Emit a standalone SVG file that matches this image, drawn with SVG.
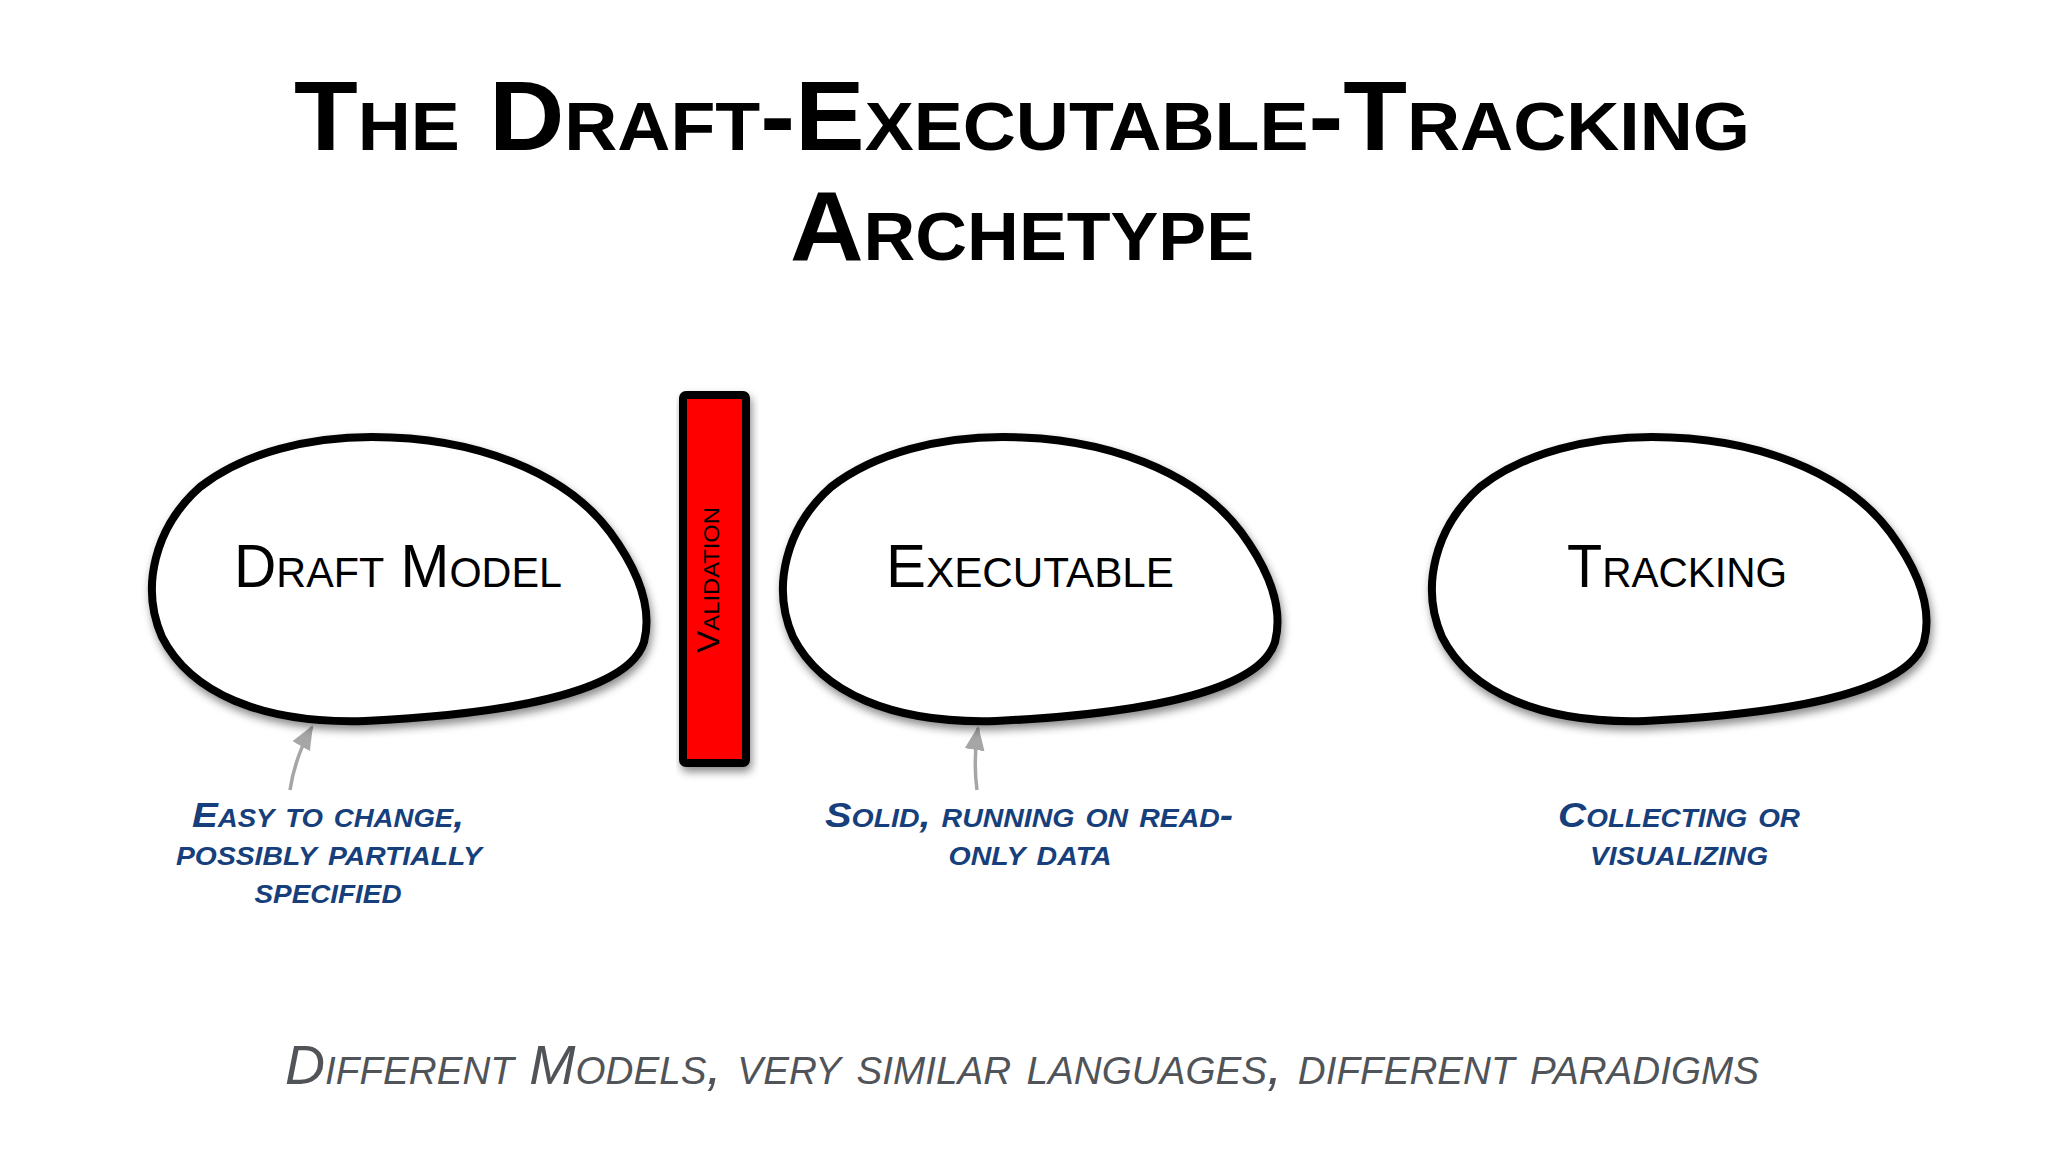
<svg xmlns="http://www.w3.org/2000/svg" width="2048" height="1152" viewBox="0 0 2048 1152">
<style>
.title{font-family:"Liberation Sans",Arial,sans-serif;font-weight:bold;font-variant:small-caps;font-size:98px;fill:#000;text-anchor:middle}
.lbl{font-family:"Liberation Sans",Arial,sans-serif;font-variant:small-caps;font-size:61px;fill:#000;text-anchor:middle}
.note{font-family:"Liberation Sans",Arial,sans-serif;font-style:italic;font-weight:bold;font-variant:small-caps;font-size:35px;fill:#173f7c;text-anchor:middle}
.foot{font-family:"Liberation Sans",Arial,sans-serif;font-style:italic;font-variant:small-caps;font-size:56px;fill:#505458;text-anchor:middle}
.blob{fill:#fff;stroke:#000;stroke-width:8;filter:url(#sh)}
.arr{fill:none;stroke:#a6a6a6;stroke-width:3.5;marker-end:url(#ah)}
</style>
<defs>
<filter id="sh" x="-10%" y="-10%" width="130%" height="130%">
<feDropShadow dx="2" dy="5" stdDeviation="4" flood-color="#000" flood-opacity="0.45"/>
</filter>
<path id="blobShape" d="M222,0 C325,0 415,35 460,95 C488,133 503,170 494,205 C480,250 380,276 215,284 C110,287 40,255 12,200 C-10,150 5,90 50,50 C95,15 160,0 222,0 Z"/>
<marker id="ah" viewBox="0 0 24 20" refX="22" refY="10" markerWidth="24" markerHeight="20" markerUnits="userSpaceOnUse" orient="auto">
<path d="M0,0 L24,10 L0,20 Z" fill="#a6a6a6"/>
</marker>
</defs>
<rect width="2048" height="1152" fill="#fff"/>

<g id="title">
<text class="title" x="1022" y="150" textLength="1456" lengthAdjust="spacingAndGlyphs">The Draft-Executable-Tracking</text>
<text class="title" x="1022" y="260" textLength="464" lengthAdjust="spacingAndGlyphs">Archetype</text>
</g>

<g id="connectors">
<path class="arr" d="M290,790 Q295,757 312,727"/>
<path class="arr" d="M977,790 Q973,760 978,728"/>
</g>

<g id="draft-model">
<use href="#blobShape" class="blob" transform="translate(150,437)"/>
<text class="lbl" x="398" y="587" textLength="328" lengthAdjust="spacingAndGlyphs">Draft Model</text>
</g>

<g id="validation">
<rect x="683" y="395" width="63" height="368" rx="3" fill="#ff0000" stroke="#000" stroke-width="8" filter="url(#sh)"/>
<text transform="translate(719,580) rotate(-90)" font-family="Liberation Sans,Arial,sans-serif" font-variant="small-caps" font-size="31" fill="#000" text-anchor="middle" textLength="146" lengthAdjust="spacingAndGlyphs">Validation</text>
</g>

<g id="executable">
<use href="#blobShape" class="blob" transform="translate(781,437)"/>
<text class="lbl" x="1030" y="587" textLength="288" lengthAdjust="spacingAndGlyphs">Executable</text>
</g>

<g id="tracking">
<use href="#blobShape" class="blob" transform="translate(1430,437)"/>
<text class="lbl" x="1677" y="587" textLength="220" lengthAdjust="spacingAndGlyphs">Tracking</text>
</g>

<g id="note-draft">
<text class="note" x="328" y="827" textLength="272" lengthAdjust="spacingAndGlyphs">Easy to change,</text>
<text class="note" x="329" y="865" textLength="306" lengthAdjust="spacingAndGlyphs">possibly partially</text>
<text class="note" x="328" y="903" textLength="147" lengthAdjust="spacingAndGlyphs">specified</text>
</g>

<g id="note-executable">
<text class="note" x="1029" y="827" textLength="408" lengthAdjust="spacingAndGlyphs">Solid, running on read-</text>
<text class="note" x="1030" y="865" textLength="163" lengthAdjust="spacingAndGlyphs">only data</text>
</g>

<g id="note-tracking">
<text class="note" x="1679" y="827" textLength="242" lengthAdjust="spacingAndGlyphs">Collecting or</text>
<text class="note" x="1679" y="865" textLength="178" lengthAdjust="spacingAndGlyphs">visualizing</text>
</g>

<g id="footer">
<text class="foot" x="1022" y="1084" textLength="1474" lengthAdjust="spacingAndGlyphs">Different Models, very similar languages, different paradigms</text>
</g>
</svg>
